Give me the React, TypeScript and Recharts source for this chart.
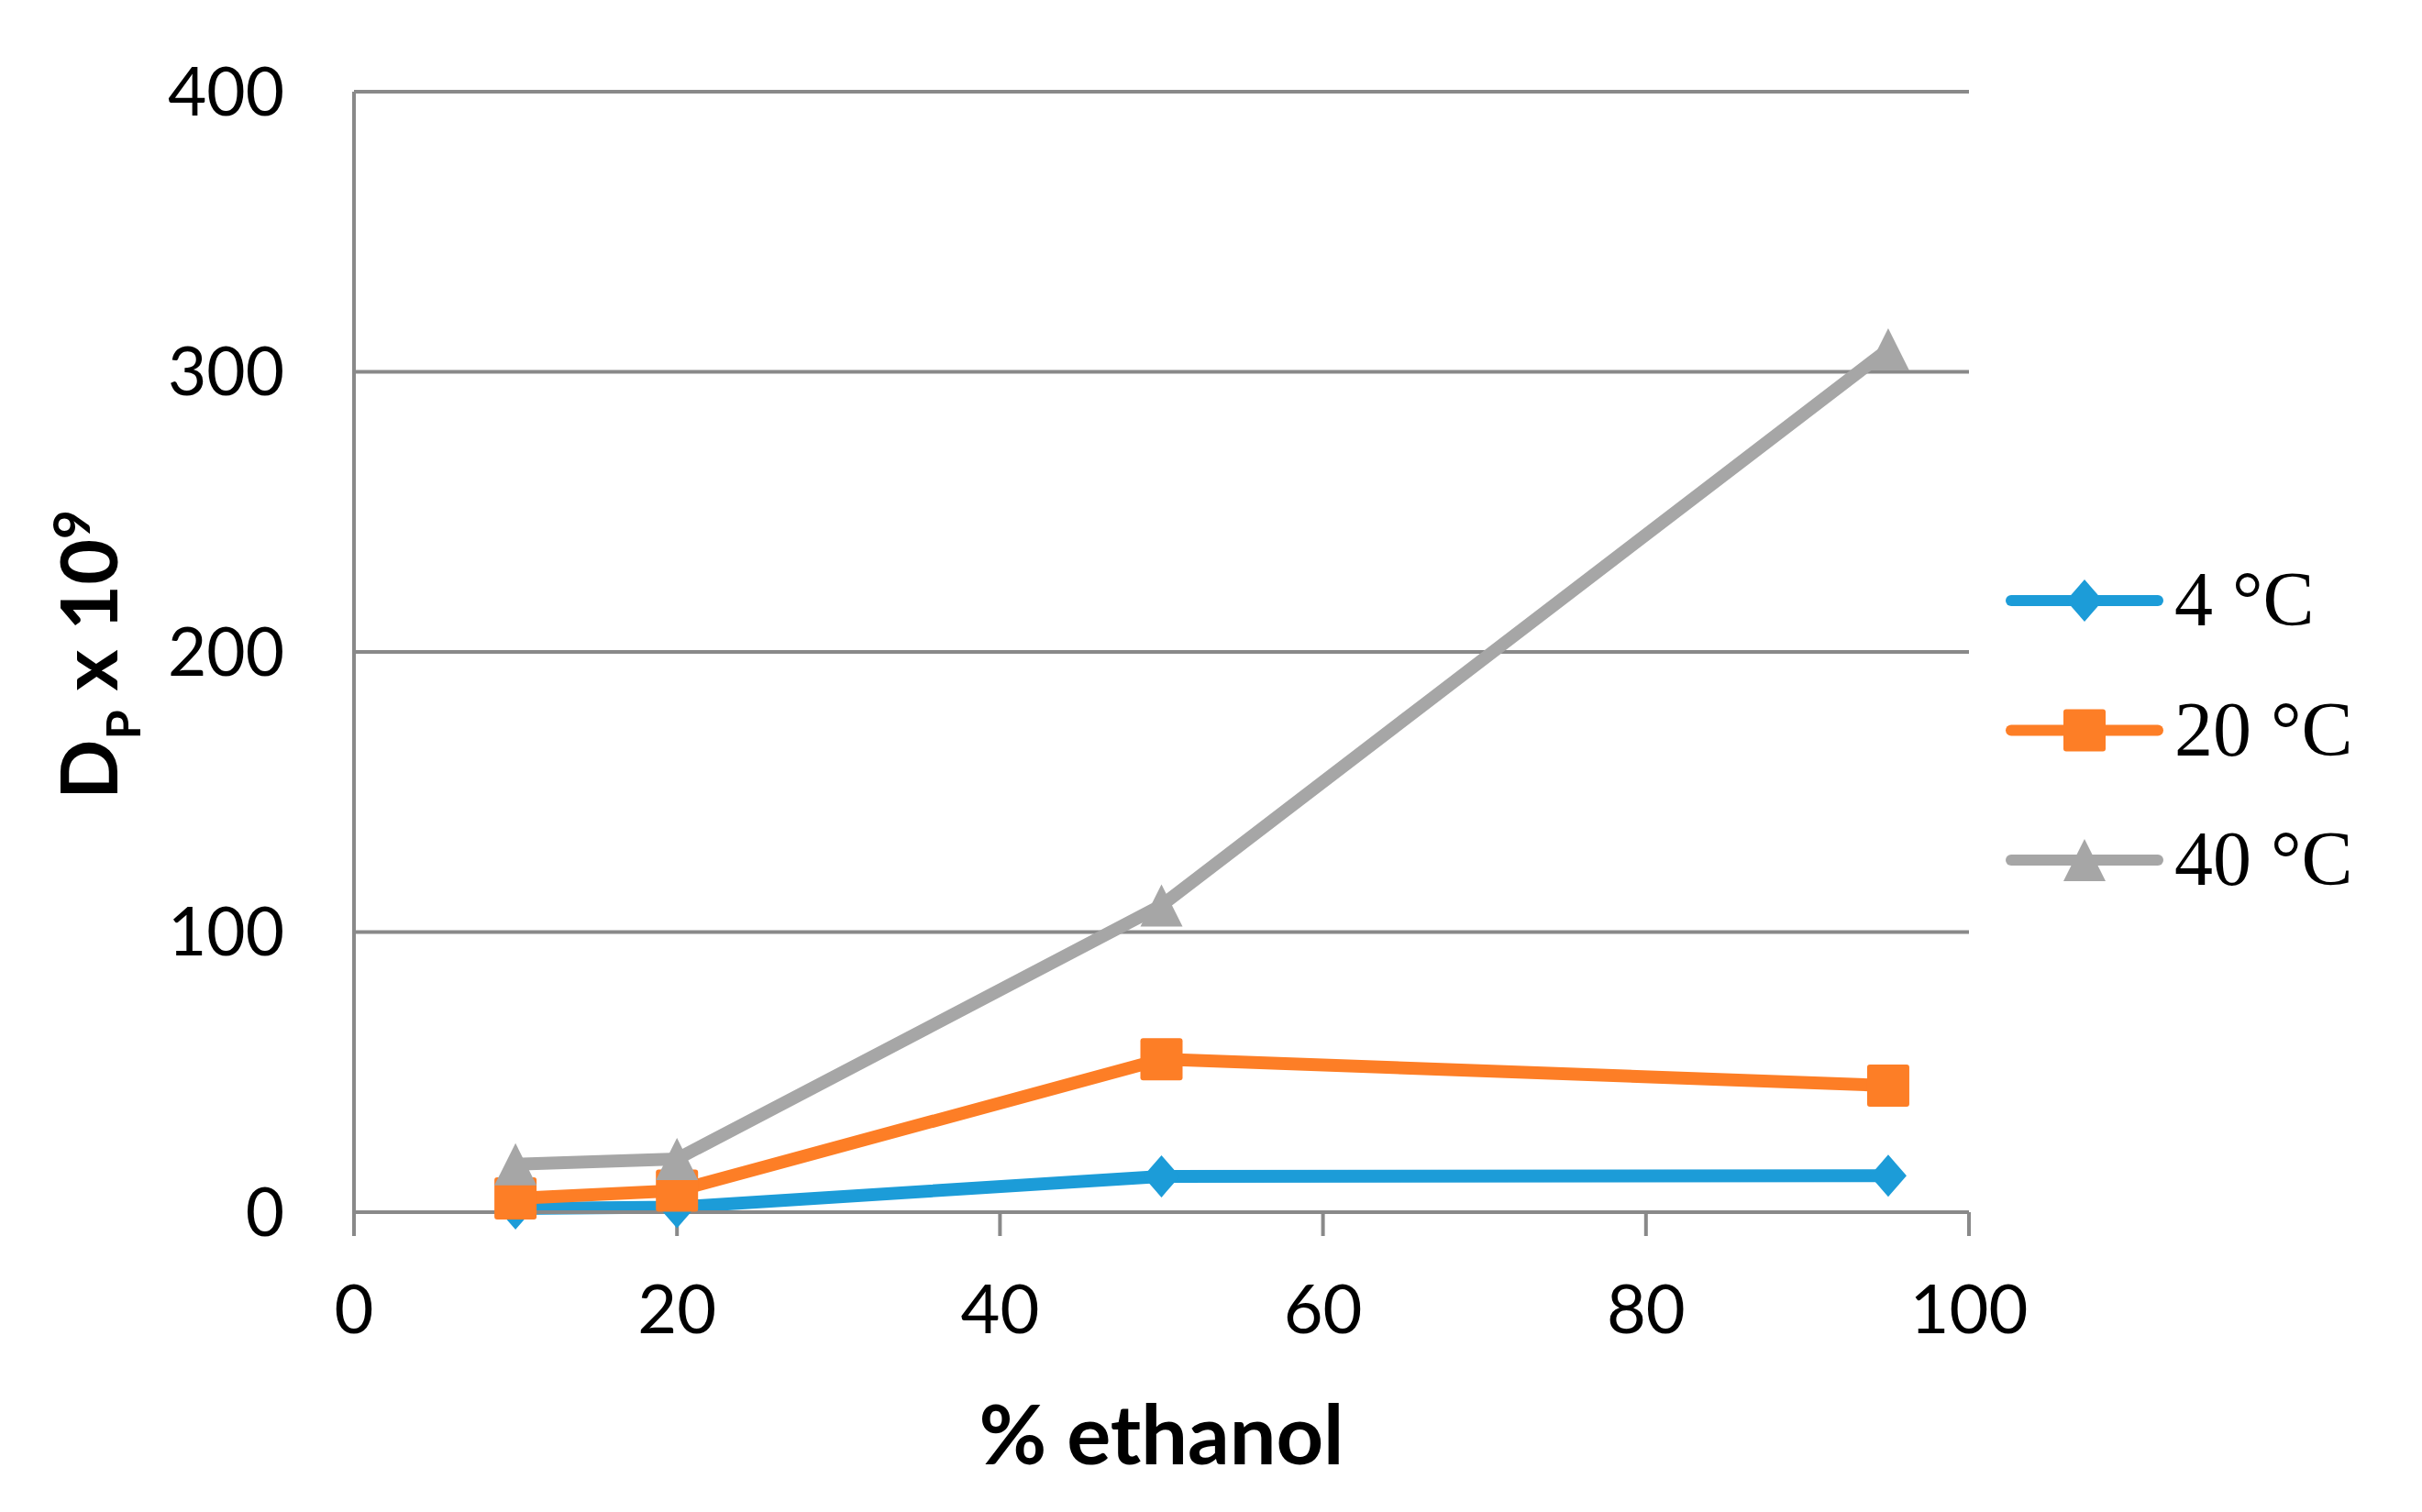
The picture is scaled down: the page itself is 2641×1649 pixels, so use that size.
import React from 'react';
import { LineChart, Line, XAxis, YAxis, CartesianGrid, Legend, Label } from 'recharts';

const ethanol = [10, 20, 50, 95];
const series4C = [1.3, 1.8, 12.8, 13.0];
const series20C = [4.9, 7.7, 54.6, 45.2];
const series40C = [17.1, 19.0, 109.5, 308];
const xTicks = [0, 20, 40, 60, 80, 100];
const yTicks = [0, 100, 200, 300, 400];
const seriesNames = ['4 °C', '20 °C', '40 °C'];
const seriesColors = ['#1c9cd8', '#fd7e26', '#a6a6a6'];

const data = ethanol.map((x, i) => ({
  x,
  t4: series4C[i],
  t20: series20C[i],
  t40: series40C[i],
}));

const AXIS = '#898989';
const LINE_W = 14;

function shapeFor(key: string, cx: number, cy: number, fill: string, k?: string) {
  if (key === 't4') {
    return (
      <path key={k} d={`M${cx},${cy - 23} L${cx + 20},${cy} L${cx},${cy + 23} L${cx - 20},${cy} Z`} fill={fill} />
    );
  }
  if (key === 't20') {
    return <rect key={k} x={cx - 23} y={cy - 23} width={46} height={46} rx={3} fill={fill} />;
  }
  return (
    <path key={k} d={`M${cx},${cy - 23} L${cx + 23},${cy + 23} L${cx - 23},${cy + 23} Z`} fill={fill} strokeLinejoin="round" />
  );
}

const makeDot = (key: string, color: string) => (props: any) => {
  const { cx, cy, index } = props;
  if (cx == null || cy == null) return <g key={`${key}-${index}`} />;
  return shapeFor(key, cx, cy, color, `${key}-${index}`);
};

const renderLegend = (props: any) => {
  const payload = [...(props.payload || [])].sort(
    (a: any, b: any) => seriesNames.indexOf(a.value) - seriesNames.indexOf(b.value)
  );
  return (
    <svg width={491} height={450} style={{ overflow: 'visible' }}>
      {payload.map((entry: any, i: number) => {
        const y = 75 + i * 141.5;
        return (
          <g key={entry.value}>
            <line x1={43} x2={203} y1={y} y2={y} stroke={entry.color} strokeWidth={12} strokeLinecap="round" />
            {shapeFor(entry.dataKey, 123, y, entry.color)}
            <text x={221} y={y + 27} fontFamily="'Liberation Serif', 'Times New Roman', serif" fontSize={84} fill="#000">
              {entry.value}
            </text>
          </g>
        );
      })}
    </svg>
  );
};

const YTitle = () => {
  return (
    <text
      transform="translate(128, 714) rotate(-90)"
      x={0}
      y={0}
      textAnchor="middle"
      fontFamily="Lato, sans-serif"
      fontWeight={700}
      fontSize={86}
      fill="#000"
    >
      <tspan>D</tspan>
      <tspan fontSize={52} dy={25}>P</tspan>
      <tspan dy={-25}> x 10</tspan>
      <tspan fontSize={55} dy={-30}>9</tspan>
    </text>
  );
};

const XTitle = (props: any) => {
  const vb = props.viewBox || {};
  const cx = (vb.x ?? 386) + (vb.width ?? 1761) / 2;
  return (
    <text x={cx} y={1597} textAnchor="middle" fontFamily="Lato, sans-serif" fontWeight={700} fontSize={90} fill="#000">
      % ethanol
    </text>
  );
};

export default function App() {
  return (
    <div style={{ position: 'absolute', left: 0, top: 0, background: '#fff' }}>
      <LineChart width={2641} height={1649} data={data} margin={{ top: 100, right: 494, bottom: 0, left: 0 }}>
        <CartesianGrid vertical={false} stroke={AXIS} strokeWidth={4} />
        <XAxis
          dataKey="x"
          type="number"
          domain={[0, 100]}
          ticks={xTicks}
          height={327}
          axisLine={{ stroke: AXIS, strokeWidth: 4 }}
          tickLine={{ stroke: AXIS, strokeWidth: 4 }}
          tickSize={26}
          tickMargin={53}
          tick={{ fill: '#000', fontSize: 74, fontFamily: 'Lato, sans-serif' }}
        >
          <Label content={XTitle} />
        </XAxis>
        <YAxis
          type="number"
          domain={[0, 400]}
          ticks={yTicks}
          width={386}
          axisLine={{ stroke: AXIS, strokeWidth: 4 }}
          tickLine={false}
          tickSize={0}
          tickMargin={76}
          tick={{ fill: '#000', fontSize: 73, fontFamily: 'Lato, sans-serif' }}
        >
          <Label content={YTitle} />
        </YAxis>
        <Legend
          layout="vertical"
          align="center"
          verticalAlign="middle"
          content={renderLegend}
          wrapperStyle={{ left: 2150, top: 580, width: 491, height: 450 }}
        />
        <Line
          dataKey="t4"
          name={seriesNames[0]}
          stroke={seriesColors[0]}
          strokeWidth={LINE_W}
          strokeLinejoin="round"
          dot={makeDot('t4', seriesColors[0])}
          activeDot={false}
          isAnimationActive={false}
        />
        <Line
          dataKey="t20"
          name={seriesNames[1]}
          stroke={seriesColors[1]}
          strokeWidth={LINE_W}
          strokeLinejoin="round"
          dot={makeDot('t20', seriesColors[1])}
          activeDot={false}
          isAnimationActive={false}
        />
        <Line
          dataKey="t40"
          name={seriesNames[2]}
          stroke={seriesColors[2]}
          strokeWidth={LINE_W}
          strokeLinejoin="round"
          dot={makeDot('t40', seriesColors[2])}
          activeDot={false}
          isAnimationActive={false}
        />
      </LineChart>
    </div>
  );
}
